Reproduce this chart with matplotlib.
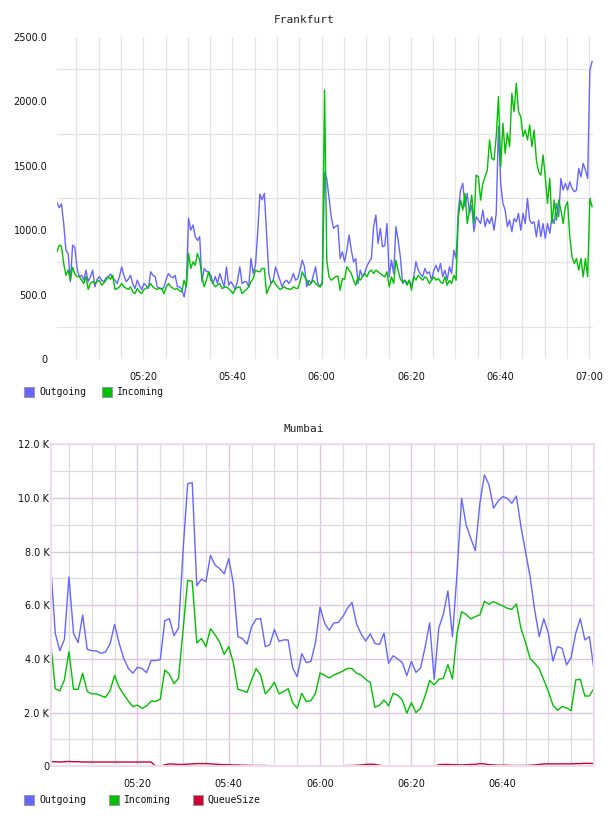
import numpy as np
import matplotlib
matplotlib.use("Agg")
import matplotlib.pyplot as plt
from matplotlib.patches import Rectangle
from matplotlib.ticker import FuncFormatter

# Frankfurt: one sample every 30 s, starting 05:00:39
fra_start = 0.65  # minutes after 05:00
fra_step = 0.5
fra_outgoing = [
    1213, 1175, 1205, 1053, 845, 820, 600, 884, 865, 703,
    640, 650, 612, 690, 600, 640, 690, 560, 620, 640,
    612, 600, 630, 640, 660, 630, 612, 586, 640, 715,
    650, 600, 620, 650, 580, 547, 612, 570, 540, 586,
    570, 547, 677, 650, 640, 560, 550, 540, 560, 620,
    664, 640, 630, 650, 560, 560, 540, 482, 580, 1092,
    1000, 1040, 950, 920, 950, 600, 703, 680, 677, 650,
    586, 640, 586, 664, 612, 560, 715, 573, 600, 573,
    540, 612, 715, 586, 600, 600, 560, 780, 664, 728,
    975, 1281, 1236, 1286, 975, 664, 586, 612, 715, 664,
    612, 560, 600, 612, 586, 612, 664, 612, 625, 690,
    767, 715, 560, 612, 586, 650, 715, 586, 560, 600,
    1450, 1400, 1250, 1104, 1014, 1030, 1040, 780, 832, 754,
    845, 962, 845, 755, 780, 586, 690, 638, 670, 720,
    755, 780, 1027, 1117, 897, 1014, 871, 880, 1052, 638,
    768, 664, 1027, 923, 793, 586, 612, 586, 612, 560,
    638, 755, 690, 660, 638, 703, 664, 677, 612, 690,
    728, 677, 742, 638, 690, 612, 716, 664, 845, 780,
    1150, 1311, 1364, 1182, 1286, 1130, 1195, 988, 1104, 1080,
    1052, 1156, 1027, 1091, 1052, 1104, 1000, 1130, 1804, 1364,
    1208, 1156, 1027, 1078, 988, 1091, 1065, 1130, 1000, 1130,
    1052, 1247, 1078, 1052, 1065, 949, 1078, 949, 1052, 936,
    1052, 975, 1104, 1052, 1208, 1104, 1402, 1311, 1364, 1311,
    1376, 1324, 1299, 1311, 1480, 1415, 1519, 1467, 1402, 2245,
    2310,
]
fra_incoming = [
    832, 884, 875, 742, 650, 690, 612, 712, 660, 640,
    640, 612, 586, 640, 540, 590, 600, 586, 600, 612,
    573, 590, 612, 640, 620, 650, 540, 547, 560, 586,
    560, 550, 540, 560, 520, 508, 547, 520, 508, 540,
    550, 560, 586, 560, 547, 540, 550, 547, 508, 560,
    586, 560, 550, 540, 547, 530, 521, 612, 560, 820,
    703, 755, 728, 820, 767, 640, 560, 612, 677, 612,
    586, 560, 575, 586, 547, 555, 560, 547, 530, 508,
    547, 555, 560, 508, 525, 540, 560, 600, 625, 690,
    680, 677, 703, 703, 508, 550, 586, 612, 580, 560,
    540, 550, 560, 547, 545, 540, 560, 550, 547, 600,
    677, 640, 612, 573, 590, 612, 586, 570, 560, 586,
    2089, 767, 638, 612, 625, 640, 643, 534, 625, 618,
    716, 690, 664, 612, 573, 638, 612, 640, 664, 638,
    677, 690, 664, 690, 677, 664, 650, 638, 677, 560,
    638, 586, 767, 690, 620, 599, 612, 573, 612, 534,
    638, 612, 651, 630, 612, 638, 625, 586, 612, 638,
    612, 625, 600, 586, 638, 573, 612, 586, 651, 612,
    1100, 1234, 1156, 1286, 1052, 1156, 1273, 1052, 1428, 1415,
    1234, 1364, 1415, 1467, 1701, 1558, 1545, 1727, 2037, 1493,
    1830, 1597, 1753, 1649, 2063, 1920, 2141, 1920, 1882, 1727,
    1778, 1701, 1817, 1649, 1778, 1545, 1454, 1428, 1584, 1415,
    1208, 1402, 1052, 1234, 1078, 1234, 1156, 1052, 1182, 1221,
    949, 793, 742, 780, 690, 780, 638, 780, 638, 1247,
    1182,
]

# Mumbai: one sample per minute, 05:01 .. 07:00, values in thousands
mum_outgoing = [
    7.48, 4.96, 4.31, 4.73, 7.06, 4.96, 4.61, 5.64, 4.36, 4.31,
    4.30, 4.21, 4.26, 4.56, 5.29, 4.58, 4.02, 3.65, 3.47, 3.69,
    3.64, 3.49, 3.94, 3.94, 3.98, 5.43, 5.50, 4.87, 5.15, 8.06,
    10.53, 10.57, 6.73, 6.97, 6.88, 7.86, 7.50, 7.37, 7.17, 7.74,
    6.82, 4.83, 4.76, 4.55, 5.20, 5.49, 5.50, 4.46, 4.53, 5.10,
    4.66, 4.71, 4.71, 3.66, 3.34, 4.20, 3.86, 3.91, 4.61, 5.93,
    5.33, 5.07, 5.34, 5.36, 5.58, 5.89, 6.11, 5.30, 4.93, 4.67,
    4.94, 4.58, 4.54, 4.96, 3.84, 4.12, 4.00, 3.87, 3.38, 3.91,
    3.50, 3.66, 4.43, 5.35, 3.24, 5.15, 5.67, 6.53, 4.83, 7.20,
    9.99, 8.99, 8.50, 8.04, 9.80, 10.86, 10.49, 9.62, 9.89, 10.05,
    9.99, 9.80, 10.07, 8.93, 8.00, 7.07, 5.83, 4.83, 5.50, 4.96,
    3.92, 4.46, 4.40, 3.78, 4.06, 4.96, 5.50, 4.71, 4.83, 3.59,
]
mum_incoming = [
    4.62, 2.89, 2.81, 3.22, 4.27, 2.87, 2.87, 3.47, 2.79, 2.70,
    2.70, 2.63, 2.57, 2.82, 3.39, 2.94, 2.68, 2.43, 2.22, 2.28,
    2.16, 2.25, 2.43, 2.42, 2.50, 3.59, 3.43, 3.08, 3.28, 5.10,
    6.93, 6.89, 4.60, 4.76, 4.46, 5.13, 4.90, 4.63, 4.17, 4.46,
    3.86, 2.87, 2.82, 2.75, 3.22, 3.64, 3.39, 2.70, 2.88, 3.13,
    2.70, 2.79, 2.89, 2.37, 2.16, 2.72, 2.41, 2.45, 2.72, 3.48,
    3.39, 3.29, 3.40, 3.47, 3.55, 3.65, 3.64, 3.47, 3.40, 3.24,
    3.12, 2.20, 2.27, 2.47, 2.25, 2.72, 2.65, 2.47, 1.98, 2.37,
    2.00, 2.16, 2.62, 3.20, 3.03, 3.24, 3.28, 3.79, 3.25, 4.96,
    5.76, 5.66, 5.49, 5.58, 5.64, 6.15, 6.04, 6.14, 6.05, 5.98,
    5.89, 5.85, 6.05, 5.14, 4.62, 4.02, 3.84, 3.64, 3.22, 2.79,
    2.28, 2.09, 2.22, 2.18, 2.07, 3.22, 3.24, 2.62, 2.62, 2.91,
]
mum_queue = [
    0.17, 0.17, 0.16, 0.17, 0.18, 0.17, 0.17, 0.16, 0.16, 0.16,
    0.16, 0.16, 0.16, 0.16, 0.16, 0.16, 0.16, 0.16, 0.16, 0.16,
    0.16, 0.16, 0.16, 0.00, 0.00, 0.06, 0.09, 0.08, 0.07, 0.07,
    0.08, 0.09, 0.10, 0.10, 0.10, 0.09, 0.08, 0.07, 0.06, 0.06,
    0.05, 0.05, 0.04, 0.04, 0.03, 0.03, 0.03, 0.03, 0.02, 0.02,
    0.02, 0.02, 0.01, 0.01, 0.01, 0.01, 0.01, 0.00, 0.00, 0.00,
    0.00, 0.01, 0.01, 0.02, 0.02, 0.03, 0.03, 0.04, 0.05, 0.07,
    0.08, 0.07, 0.04, 0.02, 0.00, 0.00, 0.00, 0.00, 0.00, 0.00,
    0.00, 0.00, 0.00, 0.00, 0.00, 0.06, 0.07, 0.07, 0.06, 0.06,
    0.05, 0.06, 0.07, 0.07, 0.10, 0.09, 0.06, 0.05, 0.04, 0.04,
    0.04, 0.03, 0.03, 0.03, 0.03, 0.04, 0.05, 0.07, 0.09, 0.09,
    0.09, 0.09, 0.09, 0.09, 0.09, 0.10, 0.10, 0.11, 0.11, 0.10,
]

BLUE = "#6666ff"
GREEN = "#00c000"
RED = "#cc0033"
W, H = 608, 816
MONO = "DejaVu Sans Mono"


def hhmm(m, pos=None):
    m = int(round(m))
    if m % 20:
        return ""
    return "{:02d}:{:02d}".format(5 + m // 60, m % 60)


def px_axes(left, top, right, bottom):
    return fig.add_axes([left / W, 1 - bottom / H, (right - left) / W, (bottom - top) / H])


def legend(y, entries):
    for x, color, label in entries:
        r = Rectangle((x / W, 1 - (y + 5) / H), 10 / W, 10 / H, transform=fig.transFigure,
                      facecolor=color, edgecolor="#999999", lw=0.8)
        fig.patches.append(r)
        fig.text((x + 15) / W, 1 - y / H, label, fontsize=7, family=MONO,
                 va="center", ha="left", color="#111111")


fig = plt.figure(figsize=(W / 100, H / 100), dpi=100)

# --- Frankfurt ---
fra_min = fra_start + fra_step * np.arange(len(fra_outgoing))
ax1 = px_axes(57, 37, 593, 359)
ax1.plot(fra_min, fra_outgoing, color=BLUE, lw=1.0)
ax1.plot(fra_min, fra_incoming, color=GREEN, lw=1.0)
ax1.set_xlim(0.65, 120.85)
ax1.set_ylim(0, 2500)
ax1.set_xticks(np.arange(5, 121, 5))
ax1.xaxis.set_major_formatter(FuncFormatter(hhmm))
ax1.set_yticks(np.arange(0, 2501, 500))
ax1.set_yticks(np.arange(250, 2500, 500), minor=True)
ax1.yaxis.set_major_formatter(FuncFormatter(lambda v, p: "0" if v == 0 else "{:.1f}".format(v)))
ax1.grid(axis="x", which="major", color="#e4e4e4", lw=0.9)
ax1.grid(axis="y", which="minor", color="#e4e4e4", lw=0.9)
ax1.tick_params(which="both", length=0, labelsize=7, colors="#111111")
ax1.tick_params(axis="y", pad=7)
ax1.tick_params(axis="x", pad=9)
for s in ax1.spines.values():
    s.set_visible(False)
ax1.set_axisbelow(True)
fig.text(0.5, 1 - 20 / H, "Frankfurt", ha="center", va="center", fontsize=8, family=MONO, color="#222222")
legend(392, [(24.3, BLUE, "Outgoing"), (102, GREEN, "Incoming")])

# --- Mumbai ---
mum_min = np.arange(1, len(mum_outgoing) + 1)
ax2 = px_axes(50.7, 444.3, 594, 766.3)
ax2.plot(mum_min, mum_outgoing, color=BLUE, lw=1.0)
ax2.plot(mum_min, mum_incoming, color=GREEN, lw=1.0)
ax2.plot(mum_min, mum_queue, color=RED, lw=1.0)
ax2.set_xlim(1, 120)
ax2.set_ylim(0, 12)
ax2.set_xticks(np.arange(20, 101, 20))
ax2.set_xticks(np.arange(5, 120, 5), minor=True)
ax2.xaxis.set_major_formatter(FuncFormatter(hhmm))
ax2.set_yticks(np.arange(0, 13, 2))
ax2.set_yticks(np.arange(1, 12, 2), minor=True)
ax2.yaxis.set_major_formatter(FuncFormatter(lambda v, p: "0" if v == 0 else "{:.1f} K".format(v)))
ax2.grid(which="minor", color="#dcdcdc", lw=0.9)
ax2.grid(which="major", color="#e0c4e0", lw=1.0)
ax2.tick_params(which="both", length=0, labelsize=7, colors="#111111")
ax2.tick_params(axis="y", pad=1)
ax2.tick_params(axis="x", pad=9)
for s in ax2.spines.values():
    s.set_color("#ecdcec")
    s.set_linewidth(1.5)
ax2.set_axisbelow(True)
fig.text(0.5, 1 - 429 / H, "Mumbai", ha="center", va="center", fontsize=8, family=MONO, color="#222222")
legend(800, [(24.3, BLUE, "Outgoing"), (108.7, GREEN, "Incoming"), (192.7, RED, "QueueSize")])

fig.savefig("out.png", dpi=100)
plt.close(fig)
